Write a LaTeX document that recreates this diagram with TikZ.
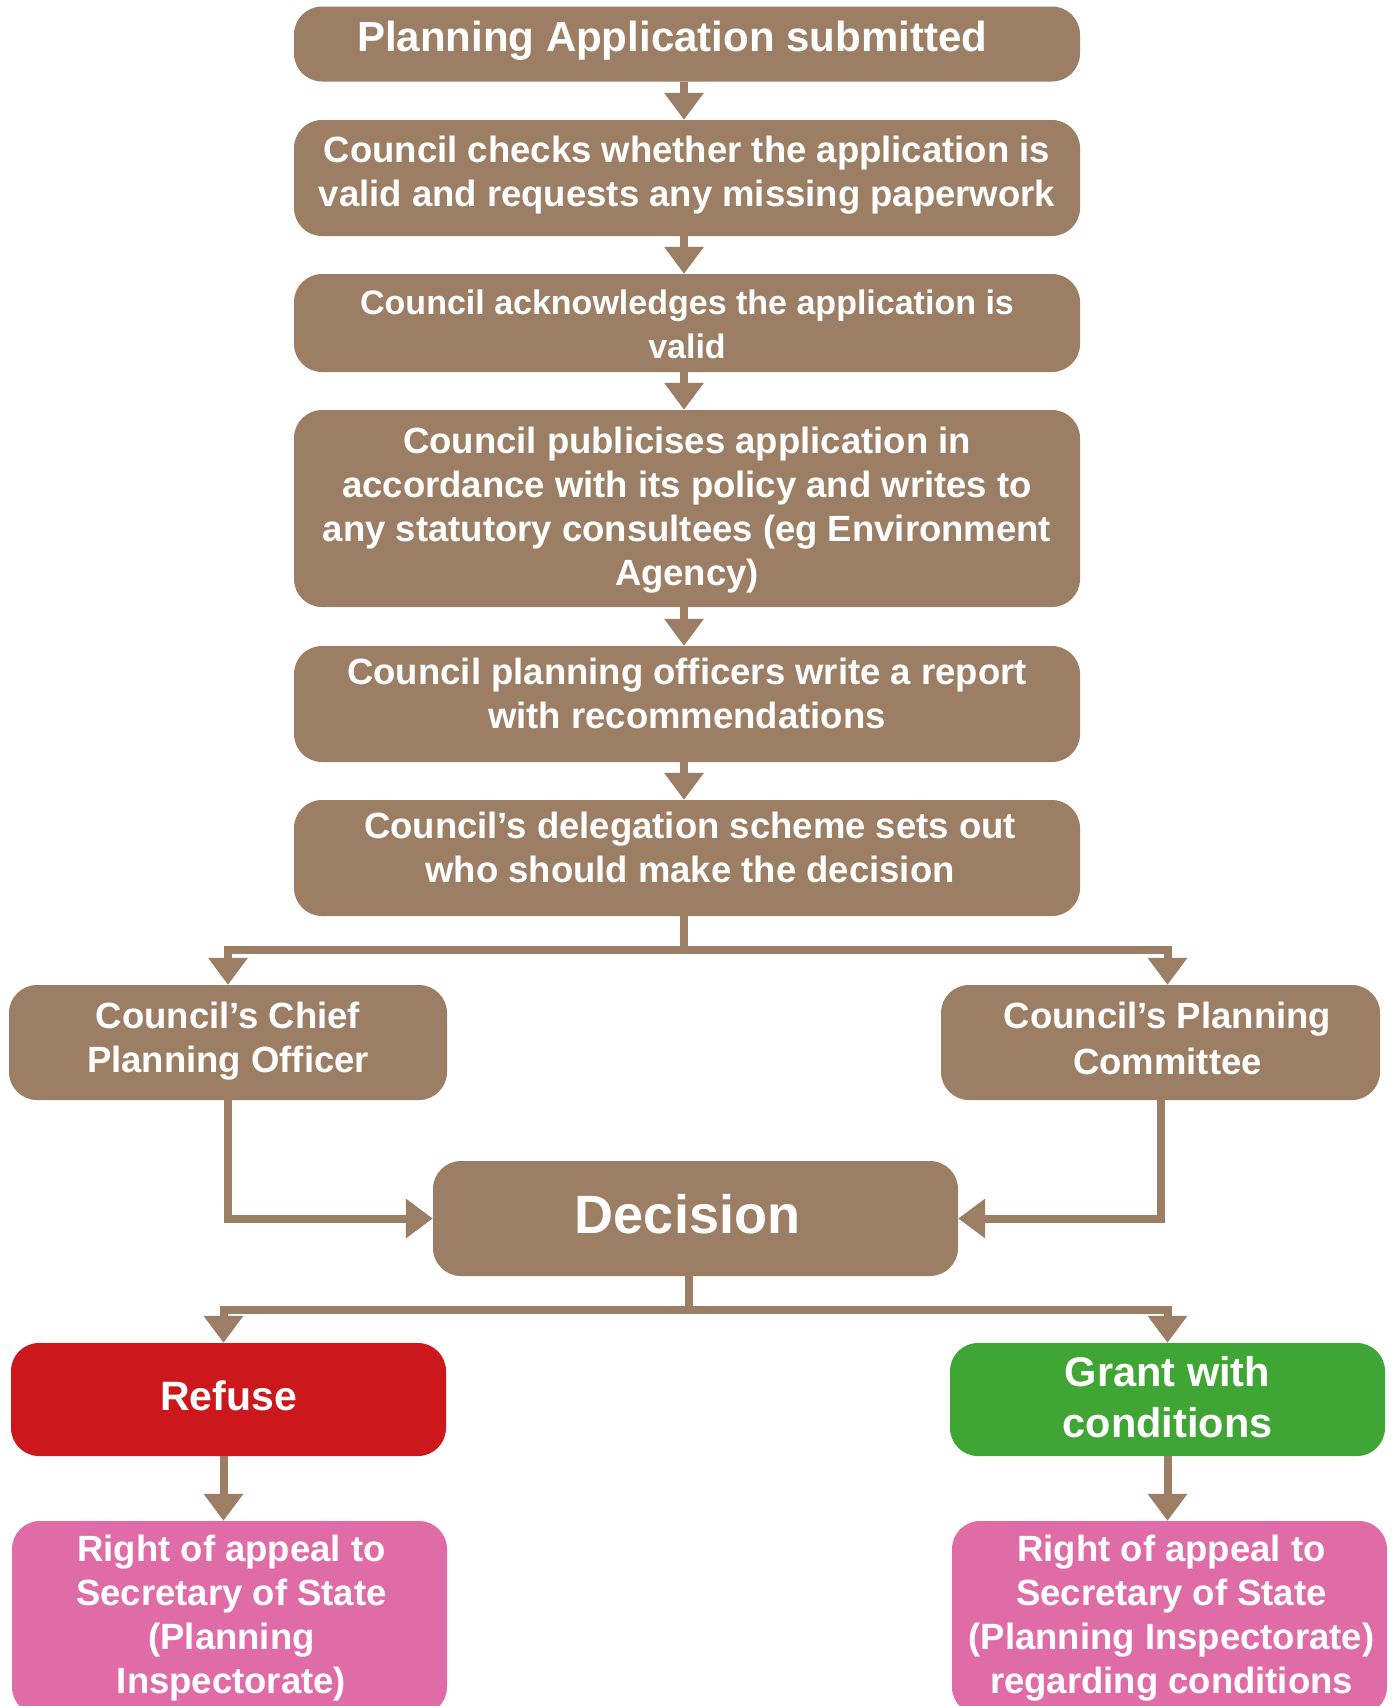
\documentclass[tikz,border=0pt]{standalone}
\usepackage{fontspec}
\setmainfont{Liberation Sans}
\usetikzlibrary{arrows.meta}
\definecolor{brn}{HTML}{9C7E65}
\definecolor{rfs}{HTML}{CC171C}
\definecolor{grn}{HTML}{3FA535}
\definecolor{pnk}{HTML}{DF6CA7}
\begin{document}
\begin{tikzpicture}[x=1pt,y=-1pt,
 box/.style={rounded corners=28pt, fill=brn, inner sep=0pt},
 txt/.style={text=white, font=\bfseries\fontsize{36.5}{44}\selectfont, align=center, inner sep=0pt},
 conn/.style={draw=brn, line width=8pt, -{Triangle[width=38pt,length=27pt]}},
 stem/.style={draw=brn, line width=8pt}]
\useasboundingbox (0,0) rectangle (1394,1706);
\clip (0,0) rectangle (1394,1706);
\fill[white] (0,0) rectangle (1394,1706);

\node[box, minimum width=786pt, minimum height=75pt] (b1) at (687,44) {};
\node[txt, font=\bfseries\fontsize{42}{48}\selectfont] (t1) at ([xshift=-15pt,yshift=3pt]b1.center) {Planning Application submitted};
\node[box, minimum width=786pt, minimum height=116pt] (b2) at (687,178) {};
\node[txt] (t2) at ([yshift=3pt]b2.center) {Council checks whether the application is\\valid and requests any missing paperwork};
\node[box, minimum width=786pt, minimum height=98pt] (b3) at (687,323) {};
\node[txt, font=\bfseries\fontsize{34}{44}\selectfont] (t3) at ([yshift=-1pt]b3.center) {Council acknowledges the application is\\valid};
\node[box, minimum width=786pt, minimum height=197pt] (b4) at (687,508.5) {};
\node[txt] (t4) at ([yshift=-2pt]b4.center) {Council publicises application in\\accordance with its policy and writes to\\any statutory consultees (eg Environment\\Agency)};
\node[box, minimum width=786pt, minimum height=116pt] (b5) at (687,704) {};
\node[txt] (t5) at ([yshift=11pt]b5.center) {Council planning officers write a report\\with recommendations};
\node[box, minimum width=786pt, minimum height=116pt] (b6) at (687,858) {};
\node[txt] (t6) at ([xshift=3pt,yshift=11pt]b6.center) {Council’s delegation scheme sets out\\who should make the decision};

\node[box, minimum width=438pt, minimum height=115pt] (cpo) at (228,1042.5) {};
\node[txt] (tc) at ([yshift=1pt]cpo.center) {Council’s Chief\\Planning Officer};
\node[box, minimum width=439pt, minimum height=115pt] (com) at (1160.5,1042.5) {};
\node[txt, font=\bfseries\fontsize{36.5}{45.5}\selectfont] (tm) at ([xshift=7pt,yshift=4pt]com.center) {Council’s Planning\\Committee};
\node[box, minimum width=525pt, minimum height=115pt] (dec) at (695.5,1218.5) {};
\node[txt, font=\bfseries\fontsize{54}{60}\selectfont] (td) at ([xshift=-8pt,yshift=4pt]dec.center) {Decision};

\node[box, fill=rfs, minimum width=435pt, minimum height=113pt] (ref) at (228.5,1399.5) {};
\node[txt, font=\bfseries\fontsize{41}{51}\selectfont] (tr) at ([yshift=4pt]ref.center) {Refuse};
\node[box, fill=grn, minimum width=435pt, minimum height=113pt] (grant) at (1167.5,1399.5) {};
\node[txt, font=\bfseries\fontsize{41.5}{51}\selectfont] (tg) at ([yshift=2pt]grant.center) {Grant with\\conditions};

\node[box, fill=pnk, minimum width=435pt, minimum height=194pt] (appL) at (229.5,1618) {};
\node[txt] (tl) at ([xshift=2pt]appL.center) {Right of appeal to\\Secretary of State\\(Planning\\Inspectorate)};
\node[box, fill=pnk, minimum width=435pt, minimum height=194pt] (appR) at (1169.5,1618) {};
\node[txt] (tR) at ([xshift=2pt]appR.center) {Right of appeal to\\Secretary of State\\(Planning Inspectorate)\\regarding conditions};

\draw[conn] ([xshift=-3pt]b1.south) -- ([xshift=-3pt]b2.north);
\draw[conn] ([xshift=-3pt]b2.south) -- ([xshift=-3pt]b3.north);
\draw[conn] ([xshift=-3pt]b3.south) -- ([xshift=-3pt]b4.north);
\draw[conn] ([xshift=-3pt]b4.south) -- ([xshift=-3pt]b5.north);
\draw[conn] ([xshift=-3pt]b5.south) -- ([xshift=-3pt]b6.north);

\coordinate (j1) at (684,950);
\draw[stem] ([xshift=-3pt]b6.south) -- (j1);
\draw[conn] (j1) -| (cpo.north);
\draw[conn] (j1) -| ([xshift=7pt]com.north);

\draw[conn] (cpo.south) |- (dec.west);
\draw[conn] (com.south) |- (dec.east);

\coordinate (j2) at (688.5,1310);
\draw[stem] ([xshift=-7pt]dec.south) -- (j2);
\draw[conn] (j2) -| ([xshift=-5pt]ref.north);
\draw[conn] (j2) -| (grant.north);

\draw[conn] ([xshift=-5pt]ref.south) -- ([xshift=-5pt]ref.south |- appL.north);
\draw[conn] (grant.south) -- (grant.south |- appR.north);
\end{tikzpicture}
\end{document}
